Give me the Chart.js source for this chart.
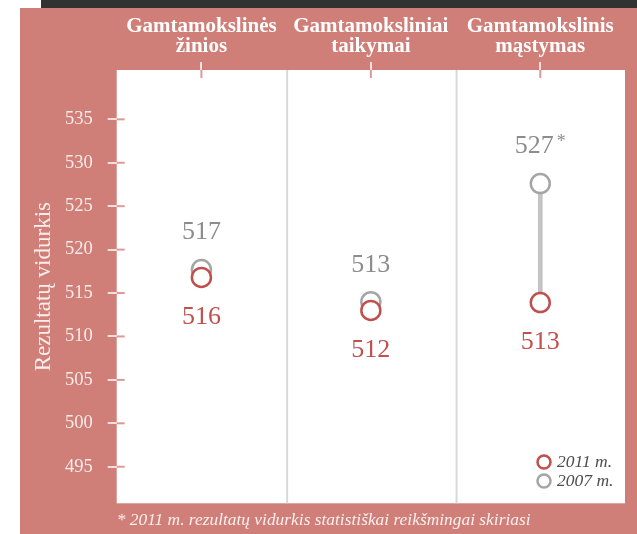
<!DOCTYPE html>
<html>
<head>
<meta charset="utf-8">
<script src="https://cdn.jsdelivr.net/npm/chart.js@4/dist/chart.umd.min.js"></script>
<style>
  html, body { margin: 0; padding: 0; background: #ffffff; overflow: hidden; }
  canvas { display: block; }
</style>
</head>
<body>
<canvas id="c" width="637" height="534"></canvas>
<script>
// ---- data ----
const categories = [
  ['Gamtamokslinės', 'žinios'],
  ['Gamtamoksliniai', 'taikymai'],
  ['Gamtamokslinis', 'mąstymas']
];
const values2011 = [516.8, 513.0, 513.9];
const values2007 = [517.7, 514.0, 527.6];
const labels2011 = ['516', '512', '513'];
const labels2007 = ['517', '513', '527*'];
const seriesNames = ['2011 m.', '2007 m.'];
const yTickValues = [495, 500, 505, 510, 515, 520, 525, 530, 535];
const yAxisTitle = 'Rezultatų vidurkis';
const footnote = '* 2011 m. rezultatų vidurkis statistiškai reikšmingai skiriasi';
// significant change shown as connector (index 2 only)
const connector = [null, null, [values2011[2], values2007[2]]];

// ---- styles ----
const PINK = '#cf7e78';
const DARK = '#323232';
const RED = '#c0504d';
const GREY = '#a5a5a5';
const GREY_TEXT = '#8c8c8c';
const LINE_GREY = '#c4c4c4';
const SERIF = '"Liberation Serif", "DejaVu Serif", serif';

const bgPlugin = {
  id: 'bg',
  beforeDraw(chart) {
    const ctx = chart.ctx, a = chart.chartArea;
    ctx.save();
    ctx.fillStyle = '#ffffff';
    ctx.fillRect(0, 0, chart.width, chart.height);
    ctx.fillStyle = PINK;
    ctx.fillRect(20, 8, chart.width - 20, chart.height - 8);
    ctx.fillStyle = DARK;
    ctx.fillRect(41, 0, chart.width - 41, 8);
    ctx.fillStyle = '#ffffff';
    ctx.fillRect(a.left, a.top, a.right - a.left, a.bottom - a.top);
    ctx.restore();
  },
  beforeDatasetsDraw(chart) {
    const ctx = chart.ctx, a = chart.chartArea;
    const xs = chart.scales.x, ys = chart.scales.y;
    ctx.save();
    // separators between categories
    ctx.strokeStyle = '#d9d9d9';
    ctx.lineWidth = 2;
    for (let i = 0; i < categories.length - 1; i++) {
      const x = (xs.getPixelForValue(i) + xs.getPixelForValue(i + 1)) / 2 + 1;
      ctx.beginPath();
      ctx.moveTo(x, a.top);
      ctx.lineTo(x, a.bottom);
      ctx.stroke();
    }
    // inner parts of tick marks
    ctx.strokeStyle = '#dc9a95';
    ctx.lineWidth = 2;
    yTickValues.forEach(v => {
      const y = ys.getPixelForValue(v);
      ctx.beginPath();
      ctx.moveTo(a.left, y);
      ctx.lineTo(a.left + 8, y);
      ctx.stroke();
    });
    categories.forEach((c, i) => {
      const x = xs.getPixelForValue(i);
      ctx.beginPath();
      ctx.moveTo(x, a.top);
      ctx.lineTo(x, a.top + 8);
      ctx.stroke();
    });
    ctx.restore();
  },
  afterDatasetsDraw(chart) {
    const ctx = chart.ctx, a = chart.chartArea;
    const xs = chart.scales.x, ys = chart.scales.y;
    ctx.save();
    ctx.textBaseline = 'middle';
    const drawLabel = (txt, x, y, color) => {
      ctx.fillStyle = color;
      const star = txt.endsWith('*');
      const main = star ? txt.slice(0, -1) : txt;
      ctx.font = '26px ' + SERIF;
      const w1 = ctx.measureText(main).width;
      let w2 = 0;
      if (star) { ctx.font = '18px ' + SERIF; w2 = ctx.measureText('*').width + 3; }
      const x0 = x - (w1 + w2) / 2;
      ctx.textAlign = 'left';
      ctx.font = '26px ' + SERIF;
      ctx.fillText(main, x0, y);
      if (star) {
        ctx.font = '18px ' + SERIF;
        ctx.fillText('*', x0 + w1 + 3, y - 4);
      }
    };
    categories.forEach((c, i) => {
      const x = xs.getPixelForValue(i);
      drawLabel(labels2007[i], x, ys.getPixelForValue(values2007[i]) - 37, GREY_TEXT);
      drawLabel(labels2011[i], x, ys.getPixelForValue(values2011[i]) + 40, RED);
    });
    // legend
    const lx = 544, ly = [462, 481];
    const cols = [RED, GREY];
    seriesNames.forEach((n, k) => {
      ctx.beginPath();
      ctx.arc(lx, ly[k], 6.5, 0, Math.PI * 2);
      ctx.fillStyle = '#ffffff';
      ctx.fill();
      ctx.lineWidth = 2.5;
      ctx.strokeStyle = cols[k];
      ctx.stroke();
      ctx.fillStyle = '#4d4d4d';
      ctx.font = 'italic 17.5px ' + SERIF;
      ctx.textAlign = 'left';
      ctx.fillText(n, lx + 13, ly[k]);
    });
    // footnote
    ctx.fillStyle = '#fbefee';
    ctx.font = 'italic 17.4px ' + SERIF;
    ctx.textAlign = 'left';
    ctx.fillText(footnote, a.left, 520);
    ctx.restore();
  }
};

new Chart(document.getElementById('c'), {
  type: 'bar',
  plugins: [bgPlugin],
  data: {
    labels: categories,
    datasets: [
      {
        type: 'line', label: seriesNames[0], data: values2011, order: 0,
        showLine: false, pointRadius: 9.5, pointHoverRadius: 9.5,
        pointBorderWidth: 2.5, pointBorderColor: RED, pointBackgroundColor: '#ffffff'
      },
      {
        type: 'line', label: seriesNames[1], data: values2007, order: 1,
        showLine: false, pointRadius: 9.5, pointHoverRadius: 9.5,
        pointBorderWidth: 2.5, pointBorderColor: GREY, pointBackgroundColor: '#ffffff'
      },
      {
        type: 'bar', label: 'connector', data: connector, order: 2,
        barThickness: 4, backgroundColor: LINE_GREY, borderWidth: 0
      }
    ]
  },
  options: {
    responsive: false,
    devicePixelRatio: 1,
    animation: false,
    layout: { padding: { left: 0, top: 0, right: 8.7, bottom: 30.7 } },
    plugins: { legend: { display: false }, tooltip: { enabled: false } },
    scales: {
      x: {
        position: 'top',
        offset: true,
        border: { display: false },
        grid: { offset: false, drawOnChartArea: false, drawTicks: true, tickLength: 8, tickColor: '#f6dfdc', lineWidth: 2 },
        ticks: {
          color: '#ffffff', padding: 5, maxRotation: 0, autoSkip: false,
          font: { family: SERIF, size: 21, weight: 'bold', lineHeight: 0.96 }
        },
        afterFit(s) { s.height = 70; }
      },
      y: {
        min: 490.79, max: 540.68,
        border: { display: false },
        grid: { drawOnChartArea: false, drawTicks: true, tickLength: 9, tickColor: '#f6dfdc', lineWidth: 2 },
        ticks: { color: '#f8ecea', padding: 15, font: { family: SERIF, size: 18.5 } },
        afterBuildTicks(s) { s.ticks = yTickValues.map(v => ({ value: v })); },
        title: {
          display: true, text: yAxisTitle, color: '#fbefee',
          font: { family: SERIF, size: 23, lineHeight: 1.2 },
          padding: { top: 30, bottom: 0 }
        },
        afterFit(s) { s.width = 116.7; }
      }
    }
  }
});
</script>
</body>
</html>
